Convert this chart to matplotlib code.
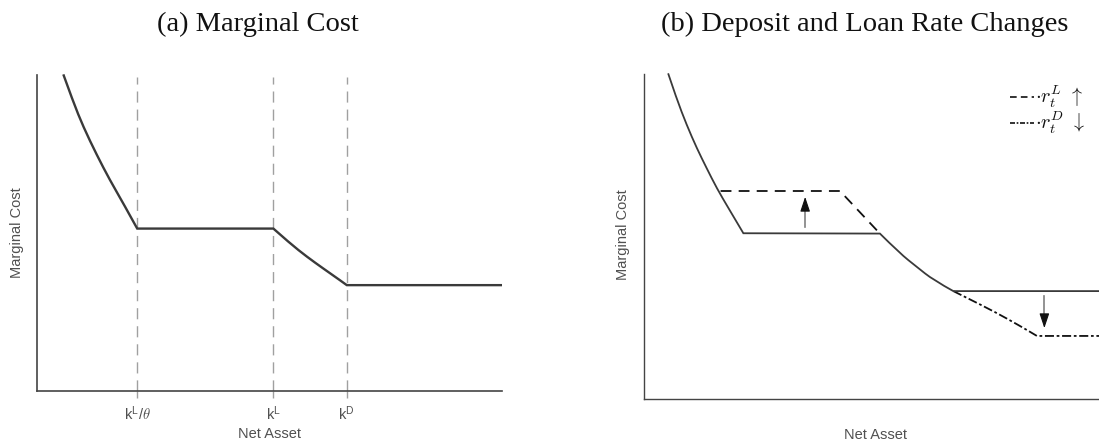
import matplotlib
matplotlib.use("Agg")
import matplotlib.pyplot as plt
from matplotlib.path import Path
from matplotlib.patches import PathPatch

plt.rcParams["mathtext.fontset"] = "cm"

# ---- panel (a): marginal cost schedule ----
net_asset_a = [0.56, 0.77, 0.99, 1.28, 1.56, 1.85, 2.15, 5.08, 5.44, 5.80, 6.15, 6.51, 6.66, 10.0]
marginal_cost_a = [10.02, 9.16, 8.36, 7.47, 6.68, 5.94, 5.14, 5.14, 4.67, 4.25, 3.88, 3.51, 3.35, 3.35]
thresholds_a = [2.15, 5.08, 6.66]
threshold_labels = [r"k$^{\mathregular{L}}$/$\theta$", r"k$^{\mathregular{L}}$", r"k$^{\mathregular{D}}$"]

# ---- panel (b): baseline and shifted schedules ----
net_asset_b = [0.53, 0.71, 0.93, 1.15, 1.36, 1.58, 1.83, 2.15, 5.09, 5.52, 5.88, 6.24, 6.67, 10.5]
marginal_cost_b = [10.02, 9.25, 8.43, 7.71, 7.10, 6.48, 5.87, 5.10, 5.09, 4.48, 4.07, 3.66, 3.32, 3.32]
kinks_b = [2.15, 5.09, 6.67]
loan_up_x = [1.66, 4.23, 5.09]
loan_up_y = [6.40, 6.40, 5.09]
deposit_down_x = [6.67, 7.32, 7.82, 8.32, 8.47, 10.5]
deposit_down_y = [3.32, 2.86, 2.48, 2.07, 1.94, 1.94]
kinks_deposit = [8.47]
arrow_up = (3.48, 5.30, 6.22)      # x, from y, to y
arrow_down = (8.63, 3.17, 2.18)

W, H = 1099, 442
fig = plt.figure(figsize=(W / 100, H / 100), dpi=100)


def ax_rect(x0, x1, ytop, ybot):
    return [x0 / W, 1 - ybot / H, (x1 - x0) / W, (ybot - ytop) / H]


def schedule_path(xs, ys, corners):
    """Piecewise path: straight pieces between two points, smooth quadratic
    pieces where a stretch has several points; sharp corners at `corners`."""
    pts = list(zip(xs, ys))
    cut = [0] + [i for i, x in enumerate(xs) if x in corners and 0 < i < len(xs) - 1] + [len(xs) - 1]
    verts, codes = [pts[0]], [Path.MOVETO]
    for a, b in zip(cut[:-1], cut[1:]):
        seg = pts[a:b + 1]
        if len(seg) == 2:
            verts.append(seg[1]); codes.append(Path.LINETO)
            continue
        for j in range(1, len(seg) - 1):
            ctrl = seg[j]
            if j < len(seg) - 2:
                end = ((seg[j][0] + seg[j + 1][0]) / 2, (seg[j][1] + seg[j + 1][1]) / 2)
            else:
                end = seg[j + 1]
            verts += [ctrl, end]
            codes += [Path.CURVE3, Path.CURVE3]
    return Path(verts, codes)


def draw_schedule(ax, xs, ys, corners, **kw):
    patch = PathPatch(schedule_path(xs, ys, corners), fill=False, **kw)
    ax.add_patch(patch)
    return patch


curve_col = "#3a3a3a"
spine_col = "#444444"
label_col = "#505050"
sans = "Liberation Sans"

# ---------- (a) ----------
ax1 = fig.add_axes(ax_rect(37.3, 502, 75, 391))
ax1.set_xlim(0, 10)
ax1.set_ylim(0, 10)
for x in thresholds_a:
    ax1.plot([x, x], [0, 9.94], color="#a0a0a0", lw=1.0, dashes=(8, 5), zorder=1)
draw_schedule(ax1, net_asset_a, marginal_cost_a, thresholds_a, edgecolor=curve_col,
              lw=1.7, clip_on=False, capstyle="butt", joinstyle="miter", zorder=3)
ax1.set_xticks(thresholds_a)
ax1.set_xticklabels(threshold_labels, fontsize=10.5, color=label_col, family=sans)
ax1.tick_params(axis="x", direction="out", length=5, width=1, color="#a0a0a0", pad=5)
ax1.set_yticks([])
for s in ["top", "right"]:
    ax1.spines[s].set_visible(False)
for s in ["left", "bottom"]:
    ax1.spines[s].set_color(spine_col)
    ax1.spines[s].set_linewidth(1.2)
fig.text(270 / W, 1 - 434 / H, "Net Asset", ha="center", va="center",
         fontsize=10.5, color=label_col, family=sans)
fig.text(17 / W, 1 - 233 / H, "Marginal Cost", ha="center", va="center",
         rotation=90, fontsize=10.5, color=label_col, family=sans)
fig.text(258 / W, 1 - 24 / H, "(a) Marginal Cost", ha="center", va="center",
         fontsize=20.5, family="Liberation Serif", color="#111111")

# ---------- (b) ----------
ax2 = fig.add_axes(ax_rect(643.5, 1108, 74, 399))
ax2.set_xlim(0, 10)
ax2.set_ylim(0, 10)
draw_schedule(ax2, net_asset_b, marginal_cost_b, kinks_b, edgecolor=curve_col,
              lw=1.3, clip_on=False, capstyle="butt", joinstyle="miter", zorder=3)
ax2.plot(loan_up_x, loan_up_y, color="#111111", lw=1.3, dashes=(6, 4), zorder=2)
draw_schedule(ax2, deposit_down_x, deposit_down_y, kinks_deposit, edgecolor="#111111",
              lw=1.3, linestyle=(0, (5, 1.5, 1.5, 1.5)), clip_on=False, zorder=2)
for ax_x, y0, y1 in [arrow_up, arrow_down]:
    direction = 1 if y1 > y0 else -1
    ax2.plot([ax_x, ax_x], [y0, y1 - direction * 0.25], color="#808080", lw=1.2)
    ax2.annotate("", xy=(ax_x, y1), xytext=(ax_x, y1 - direction * 0.3),
                 arrowprops=dict(arrowstyle="-|>,head_length=0.9,head_width=0.3",
                                 color="#111111", lw=0.8, shrinkA=0, shrinkB=0))
ax2.set_xticks([])
ax2.set_yticks([])
for s in ["top", "right"]:
    ax2.spines[s].set_visible(False)
for s in ["left", "bottom"]:
    ax2.spines[s].set_color(spine_col)
    ax2.spines[s].set_linewidth(1.0)
fig.text(875.5 / W, 1 - 435 / H, "Net Asset", ha="center", va="center",
         fontsize=10.5, color=label_col, family=sans)
fig.text(623 / W, 1 - 235 / H, "Marginal Cost", ha="center", va="center",
         rotation=90, fontsize=10.5, color=label_col, family=sans)
fig.text(865 / W, 1 - 24 / H, "(b) Deposit and Loan Rate Changes", ha="center",
         va="center", fontsize=20.5, family="Liberation Serif", color="#111111")

# legend for the shifted schedules
leg_x0, leg_x1 = 1010, 1034
for y_px, dash, lab in [(97, (4, 2.5), r"$\cdot r_t^L\ \uparrow$"),
                        (123, (3, 1, 1, 1), r"$\cdot r_t^D\ \downarrow$")]:
    yf = 1 - y_px / H
    fig.add_artist(plt.Line2D([leg_x0 / W, leg_x1 / W], [yf, yf], color="#111111",
                              lw=1.2, dashes=dash))
    fig.text((leg_x1 + 1) / W, yf, lab, ha="left", va="center", fontsize=14.5,
             color="#111111")

fig.savefig("out.png", dpi=100)
